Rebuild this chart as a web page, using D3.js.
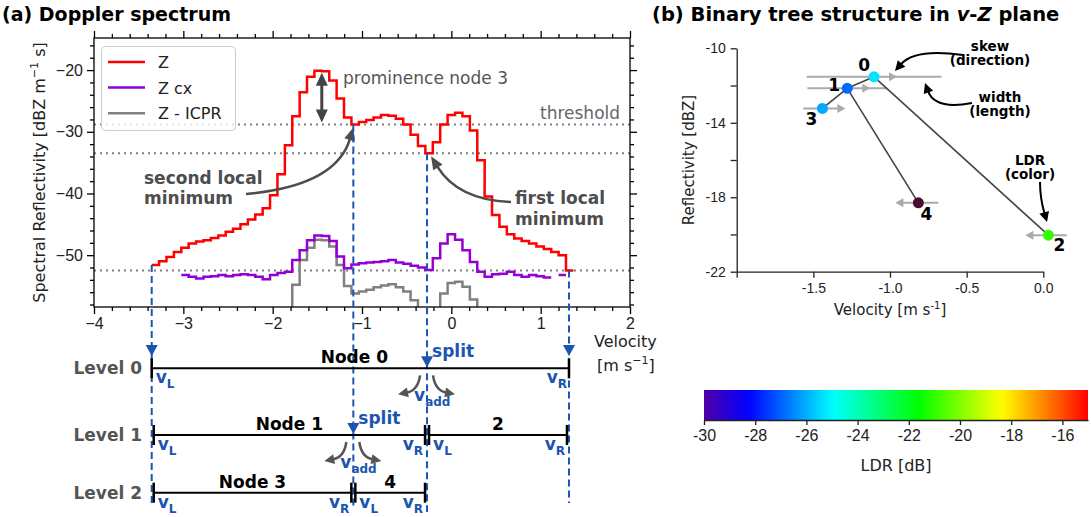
<!DOCTYPE html>
<html>
<head>
<meta charset="utf-8">
<script src="https://cdn.jsdelivr.net/npm/d3@7"></script>
<style>
  body { margin: 0; background: #fff; }
  svg { display: block; font-family: "DejaVu Sans", sans-serif; }
</style>
</head>
<body>
<svg id="fig" width="1091" height="517"></svg>
<script>
// ---------------- Doppler spectrum (bin-centre velocity, m/s) ----------------
const velocity = [
  -3.313, -3.230, -3.147, -3.064, -2.981, -2.899, -2.816, -2.733, -2.650, -2.567,
  -2.485, -2.402, -2.319, -2.236, -2.153, -2.071, -1.988, -1.905, -1.822, -1.739,
  -1.657, -1.574, -1.491, -1.408, -1.325, -1.243, -1.160, -1.077, -0.994, -0.911,
  -0.829, -0.746, -0.663, -0.580, -0.497, -0.415, -0.332, -0.249, -0.166, -0.083,
   0.000,  0.083,  0.166,  0.249,  0.332,  0.414,  0.497,  0.580,  0.663,  0.746,
   0.828,  0.911,  0.994,  1.077,  1.160,  1.242,  1.325
];
const binWidth = 0.0828;

// co-polar reflectivity Z
const zTotal = [
  -51.6, -51.0, -50.3, -49.5, -48.8, -48.1, -47.8, -47.6, -47.2, -46.8,
  -46.2, -45.7, -45.0, -44.2, -43.4, -42.4, -40.3, -36.9, -32.2, -27.5,
  -23.6, -21.1, -20.1, -20.2, -21.7, -24.6, -27.7, -28.8, -28.4, -28.1,
  -27.7, -27.3, -27.4, -27.9, -28.8, -30.5, -32.3, -33.5, -31.7, -28.8,
  -27.3, -26.9, -27.5, -29.8, -34.6, -40.5, -43.5, -45.4, -46.6, -47.3,
  -47.7, -48.1, -48.6, -49.0, -49.5, -50.0, -52.5
];
// cross-polar reflectivity Z cx
const zCross = [
  null, null, null, null, -53.2, -53.5, -53.8, -53.5, -53.4, -53.2,
  -53.4, -53.2, -53.1, -53.2, -53.5, -53.9, -53.2, -52.9, -52.7, -50.8,
  -49.2, -47.6, -46.8, -46.9, -47.7, -50.2, -52.1, -51.5, -51.3, -51.2,
  -51.1, -51.0, -50.8, -51.2, -51.4, -51.7, -52.0, -52.4, -50.5, -48.1,
  -46.6, -47.5, -49.2, -51.1, -52.7, -53.5, -53.1, -53.0, -52.7, -53.2,
  -53.5, -53.2, -53.4, -53.6, null, -53.2, null
];
// Z minus integrated cross-polar return
const zIcpr = [
  null, null, null, null, null, null, null, null, null, null,
  null, null, null, null, null, null, null, -62.0, -62.0, -54.8,
  -50.8, -48.8, -47.5, -47.6, -48.6, -51.6, -55.0, -56.2, -55.9, -55.6,
  -55.2, -54.9, -54.7, -55.2, -55.9, -57.3, -62.0, -62.0, -62.0, -56.2,
  -54.5, -54.3, -55.1, -57.2, -62.0, null, null, null, null, null,
  null, null, null, null, null, null, null
];
const thresholds = [-52.5, -33.5, -28.8];

// peak boundaries and split velocities (m/s)
const vLeft = -3.354, vRight = 1.317;
const vSplitFirst = -0.272;   // first local minimum
const vSplitSecond = -1.097;  // second local minimum
const prominenceVel = -1.45, prominenceTop = -20.1, prominenceBase = -28.8;

const xMajorTicks = [-4, -3, -2, -1, 0, 1, 2];
const yMajorTicks = [-50, -40, -30, -20];

// ---------------- binary tree in v-Z plane ----------------
const nodeIds     = [0, 1, 2, 3, 4];
const nodeParent  = [null, 0, 0, 1, 1];
const nodeVel     = [-1.104, -1.279, 0.033, -1.441, -0.815];
const nodeRefl    = [-11.53, -12.15, -20.04, -13.23, -18.30];
const nodeWidth   = [0.88, 0.52, 0.24, 0.25, 0.26];
const nodeSkew    = [1, 1, -1, 1, -1];
const nodeLDR     = [-25.3, -26.9, -21.0, -26.1, -32.0];
const bXTicks = [-2.0, -1.5, -1.0, -0.5, 0.0];
const bXLabels = ['', '-1.5', '-1.0', '-0.5', '0.0'];
const bYTicks = [-22, -20, -18, -16, -14, -12, -10];
const bYLabels = ['-22', '', '-18', '', '-14', '', '-10'];
const cbTicks = [-30, -28, -26, -24, -22, -20, -18, -16];

// LDR colour map
const ldrStops  = [0, 0.117, 0.335, 0.56, 0.774, 0.89, 1];
const ldrColors = ['#5000a8', '#0000ff', '#00ffff', '#00ff00', '#ffff00', '#ff8000', '#ff0000'];
const ldrUnder = '#4a0c30';

// ---------------------------------------------------------------------------
const svg = d3.select('#fig');
const defs = svg.append('defs');
const BLUE = '#1c55b0';
const uminus = d => (d < 0 ? '\u2212' + Math.abs(d) : String(d));

function arrowHead(g, fx, fy, tx, ty, len, halfW, color) {
  const a = Math.atan2(ty - fy, tx - fx);
  const bx = tx - len * Math.cos(a), by = ty - len * Math.sin(a);
  const px = -Math.sin(a) * halfW, py = Math.cos(a) * halfW;
  g.append('path')
    .attr('d', `M${tx},${ty}L${bx + px},${by + py}L${bx - px},${by - py}Z`)
    .attr('fill', color);
}
function curvedArrow(g, s, c, e, color, width, len, halfW) {
  // shorten the curve so the head sits at the end point
  const a = Math.atan2(e[1] - c[1], e[0] - c[0]);
  const ex = e[0] - (len - 1) * Math.cos(a), ey = e[1] - (len - 1) * Math.sin(a);
  g.append('path')
    .attr('d', `M${s[0]},${s[1]}Q${c[0]},${c[1]} ${ex},${ey}`)
    .attr('fill', 'none').attr('stroke', color).attr('stroke-width', width);
  arrowHead(g, c[0], c[1], e[0], e[1], len, halfW, color);
}
function boldText(g, x, y, str, color, size) {
  return g.append('text').attr('x', x).attr('y', y).text(str)
    .style('font-size', (size || 17) + 'px').style('font-weight', 'bold').attr('fill', color);
}

// ============================ panel (a) ====================================
const A = { left: 94, right: 630, top: 38, bottom: 307 };
const xA = d3.scaleLinear().domain([-4, 2]).range([A.left, A.right]);
const yA = d3.scaleLinear().domain([-58.4, -14.8]).range([A.bottom, A.top]);
const gA = svg.append('g');

defs.append('clipPath').attr('id', 'clipA').append('rect')
  .attr('x', A.left).attr('y', A.top)
  .attr('width', A.right - A.left).attr('height', A.bottom - A.top);

// axes with outward ticks on all four sides
const xMinor = d3.range(-4, 2.001, 0.2).filter(v => Math.abs(v - Math.round(v)) > 1e-6);
const yMinor = d3.range(-58, -14, 2).filter(v => v % 10 !== 0);
function styleAxis(sel) {
  sel.select('.domain').remove();
  sel.selectAll('line').attr('stroke', '#000').attr('stroke-width', 1.3);
  sel.selectAll('text').attr('fill', '#222').style('font-size', '16px');
}
gA.append('g').attr('transform', `translate(0,${A.bottom})`)
  .call(d3.axisBottom(xA).tickValues(xMajorTicks).tickSize(7).tickPadding(4).tickFormat(uminus)).call(styleAxis);
gA.append('g').attr('transform', `translate(0,${A.bottom})`)
  .call(d3.axisBottom(xA).tickValues(xMinor).tickSize(4).tickFormat('')).call(styleAxis);
gA.append('g').attr('transform', `translate(0,${A.top})`)
  .call(d3.axisTop(xA).tickValues(xMajorTicks).tickSize(7).tickFormat('')).call(styleAxis);
gA.append('g').attr('transform', `translate(0,${A.top})`)
  .call(d3.axisTop(xA).tickValues(xMinor).tickSize(4).tickFormat('')).call(styleAxis);
gA.append('g').attr('transform', `translate(${A.left},0)`)
  .call(d3.axisLeft(yA).tickValues(yMajorTicks).tickSize(7).tickPadding(4).tickFormat(uminus)).call(styleAxis);
gA.append('g').attr('transform', `translate(${A.left},0)`)
  .call(d3.axisLeft(yA).tickValues(yMinor).tickSize(4).tickFormat('')).call(styleAxis);
gA.append('g').attr('transform', `translate(${A.right},0)`)
  .call(d3.axisRight(yA).tickValues(yMajorTicks).tickSize(7).tickFormat('')).call(styleAxis);
gA.append('g').attr('transform', `translate(${A.right},0)`)
  .call(d3.axisRight(yA).tickValues(yMinor).tickSize(4).tickFormat('')).call(styleAxis);

// threshold lines
const plotA = gA.append('g').attr('clip-path', 'url(#clipA)');
thresholds.forEach(t => {
  plotA.append('line').attr('x1', A.left).attr('x2', A.right)
    .attr('y1', yA(t)).attr('y2', yA(t))
    .attr('stroke', '#808080').attr('stroke-width', 2).attr('stroke-dasharray', '2,4');
});

// spectra drawn as bins
function binPoints(vals) {
  const pts = [];
  vals.forEach((z, i) => {
    if (z == null) { pts.push(null); return; }
    pts.push([velocity[i] - binWidth / 2, z], [velocity[i] + binWidth / 2, z]);
  });
  return pts;
}
const stepLine = d3.line().defined(d => d != null).x(d => xA(d[0])).y(d => yA(d[1]));
const series = [
  { vals: zIcpr, color: '#808080', label: 'Z - ICPR' },
  { vals: zCross, color: '#9400d3', label: 'Z cx' },
  { vals: zTotal, color: '#ff0000', label: 'Z' }
];
series.forEach(s => {
  plotA.append('path').attr('d', stepLine(binPoints(s.vals)))
    .attr('fill', 'none').attr('stroke', s.color).attr('stroke-width', 2.5)
    .attr('stroke-linejoin', 'miter');
});

// frame
gA.append('rect').attr('x', A.left).attr('y', A.top)
  .attr('width', A.right - A.left).attr('height', A.bottom - A.top)
  .attr('fill', 'none').attr('stroke', '#000').attr('stroke-width', 1.3);

// legend
const leg = gA.append('g');
leg.append('rect').attr('x', 101.5).attr('y', 46.5).attr('width', 134).attr('height', 84)
  .attr('rx', 4).attr('fill', '#fff').attr('fill-opacity', 0.8)
  .attr('stroke', '#cccccc').attr('stroke-width', 1);
series.slice().reverse().forEach((s, i) => {
  const y = 62 + i * 25.6;
  leg.append('line').attr('x1', 108).attr('x2', 145).attr('y1', y).attr('y2', y)
    .attr('stroke', s.color).attr('stroke-width', 2.5);
  leg.append('text').attr('x', 158).attr('y', y + 6).text(s.label)
    .style('font-size', '16px').attr('fill', '#222');
});

// prominence double arrow
{
  const x = xA(prominenceVel), y1 = yA(prominenceTop) + 2, y2 = yA(prominenceBase) - 2;
  gA.append('line').attr('x1', x).attr('x2', x).attr('y1', y1 + 8).attr('y2', y2 - 8)
    .attr('stroke', '#444').attr('stroke-width', 3);
  arrowHead(gA, x, y2, x, y1, 13, 6, '#444');
  arrowHead(gA, x, y1, x, y2, 13, 6, '#444');
}
gA.append('text').attr('x', 343).attr('y', 84).text('prominence node 3')
  .style('font-size', '17px').attr('fill', '#555');
gA.append('text').attr('x', 540).attr('y', 119).text('threshold')
  .style('font-size', '17px').attr('fill', '#666');

// local-minimum annotations
boldText(gA, 144, 184, 'second local', '#4d4d4d');
boldText(gA, 144, 204, 'minimum', '#4d4d4d');
boldText(gA, 515, 204, 'first local', '#4d4d4d');
boldText(gA, 515, 225, 'minimum', '#4d4d4d');
curvedArrow(gA, [246, 194], [336, 186], [xA(vSplitSecond), yA(prominenceBase) + 3], '#4d4d4d', 2.5, 13, 5.5);
curvedArrow(gA, [511, 202], [458, 200], [xA(vSplitFirst) + 4, yA(thresholds[1]) + 3], '#4d4d4d', 2.5, 13, 5.5);

// x label
gA.append('text').attr('x', 594).attr('y', 347).text('Velocity')
  .style('font-size', '16px').attr('fill', '#222');
{
  const t = gA.append('text').attr('x', 597).attr('y', 371).style('font-size', '16px').attr('fill', '#222');
  t.append('tspan').text('[m s');
  t.append('tspan').attr('dy', -7).style('font-size', '11px').text('\u22121');
  t.append('tspan').attr('dy', 7).text(']');
}
// y label
{
  const t = gA.append('text').attr('transform', `translate(45,${(A.top + A.bottom) / 2}) rotate(-90)`)
    .attr('text-anchor', 'middle').style('font-size', '16px').attr('fill', '#222');
  t.append('tspan').text('Spectral Reflectivity [dBZ m');
  t.append('tspan').attr('dy', -7).style('font-size', '11px').text('\u22121');
  t.append('tspan').attr('dy', 7).text(' s]');
}
boldText(gA, 2, 21, '(a) Doppler spectrum', '#000', 19);

// ---------------- peak-finding levels below the spectrum ----------------
const levelY = [368.3, 435, 492.7];
const levels = [
  { level: 0, nodes: [{ name: 'Node 0', v0: vLeft, v1: vRight }], split: vSplitFirst },
  { level: 1, nodes: [{ name: 'Node 1', v0: vLeft, v1: vSplitFirst }, { name: '2', v0: vSplitFirst, v1: vRight }], split: vSplitSecond },
  { level: 2, nodes: [{ name: 'Node 3', v0: vLeft, v1: vSplitSecond }, { name: '4', v0: vSplitSecond, v1: vSplitFirst }], split: null }
];

// blue dashed guide lines from the spectrum down through the levels
const guides = [
  { v: vLeft, z: zTotal[0], yEnd: 505, headY: 356 },
  { v: vSplitSecond, z: prominenceBase, yEnd: 507, headY: null },
  { v: vSplitFirst, z: thresholds[1], yEnd: 512, headY: null },
  { v: vRight, z: zTotal[zTotal.length - 1], yEnd: 503, headY: 356 }
];
const gL = svg.append('g');
guides.forEach(gd => {
  gL.append('line').attr('x1', xA(gd.v)).attr('x2', xA(gd.v))
    .attr('y1', yA(gd.z)).attr('y2', gd.yEnd)
    .attr('stroke', BLUE).attr('stroke-width', 2).attr('stroke-dasharray', '7,4');
  if (gd.headY) arrowHead(gL, xA(gd.v), gd.headY - 10, xA(gd.v), gd.headY, 11, 6, BLUE);
});

function vLabel(g, x, y, sub, anchor) {
  const t = g.append('text').attr('x', x).attr('y', y).attr('text-anchor', anchor || 'start')
    .style('font-weight', 'bold').attr('fill', BLUE).style('font-size', '17px');
  t.append('tspan').text('v');
  t.append('tspan').attr('dy', 5).style('font-size', '12px').text(sub);
  return t;
}

levels.forEach((lv, li) => {
  const y = levelY[li];
  boldText(gL, 142, y + 6, 'Level ' + lv.level, '#555').attr('text-anchor', 'end');
  lv.nodes.forEach(nd => {
    const inset = li === 0 ? 0 : 2;
    const x0 = xA(nd.v0) + inset, x1 = xA(nd.v1) - inset;
    gL.append('line').attr('x1', x0).attr('x2', x1).attr('y1', y).attr('y2', y)
      .attr('stroke', '#000').attr('stroke-width', 2);
    [x0, x1].forEach(x => gL.append('line').attr('x1', x).attr('x2', x)
      .attr('y1', y - 10).attr('y2', y + 10).attr('stroke', '#000').attr('stroke-width', 2.5));
    boldText(gL, (x0 + x1) / 2 - (li === 0 ? 6 : 0), y - 5, nd.name, '#000').attr('text-anchor', 'middle');
    vLabel(gL, x0 + 4, y + 15, 'L');
    vLabel(gL, x1 - 2, y + 15, 'R', 'end');
  });
  if (lv.split != null) {
    const xs = xA(lv.split);
    arrowHead(gL, xs, y - 12, xs, y - 1, 11, 6, BLUE);
    boldText(gL, xs + 5, y - 11, 'split', BLUE);
    curvedArrow(gL, [xs - 7, y + 7], [xs - 9, y + 22], [xs - 29, y + 26], '#555', 2.5, 10, 5);
    curvedArrow(gL, [xs + 6, y + 7], [xs + 8, y + 22], [xs + 28, y + 26], '#555', 2.5, 10, 5);
    const t = gL.append('text').attr('x', xs - 13).attr('y', y + 33)
      .style('font-weight', 'bold').attr('fill', BLUE).style('font-size', '17px');
    t.append('tspan').text('v');
    t.append('tspan').attr('dy', 5).style('font-size', '12px').text('add');
  }
});

// ============================ panel (b) ====================================
const B = { left: 736.7, right: 1043.3, top: 48.3, bottom: 271.7 };
const xB = d3.scaleLinear().domain([-2, 0]).range([B.left, B.right]);
const yB = d3.scaleLinear().domain([-22, -10]).range([B.bottom, B.top]);
const gB = svg.append('g');

const cmapInterp = d3.scaleLinear().domain(ldrStops).range(ldrColors).interpolate(d3.interpolateRgb);
const ldrScale = d3.scaleLinear().domain([-30, -15]).range([0, 1]);
const ldrColor = v => (v < -30 ? ldrUnder : cmapInterp(Math.min(1, ldrScale(v))));

function styleB(sel, size) {
  sel.select('.domain').attr('stroke', '#222').attr('stroke-width', 1.3);
  sel.selectAll('line').attr('stroke', '#222').attr('stroke-width', 1.3);
  sel.selectAll('text').attr('fill', '#222').style('font-size', size + 'px');
}
gB.append('g').attr('transform', `translate(0,${B.bottom})`)
  .call(d3.axisBottom(xB).tickValues(bXTicks).tickSize(6).tickSizeOuter(0).tickPadding(5)
    .tickFormat((d, i) => bXLabels[i])).call(s => styleB(s, 14));
gB.append('g').attr('transform', `translate(${B.left},0)`)
  .call(d3.axisLeft(yB).tickValues(bYTicks).tickSize(6).tickSizeOuter(0).tickPadding(5)
    .tickFormat((d, i) => bYLabels[i])).call(s => styleB(s, 14));

{
  const t = gB.append('text').attr('x', (B.left + B.right) / 2).attr('y', 315)
    .attr('text-anchor', 'middle').style('font-size', '15px').attr('fill', '#222');
  t.append('tspan').text('Velocity [m s');
  t.append('tspan').attr('dy', -6).style('font-size', '10px').text('-1');
  t.append('tspan').attr('dy', 6).text(']');
}
gB.append('text').attr('transform', `translate(694,${(B.top + B.bottom) / 2}) rotate(-90)`)
  .attr('text-anchor', 'middle').style('font-size', '15px').attr('fill', '#222')
  .text('Reflectivity [dBZ]');

// title with italic variables
{
  const t = gB.append('text').attr('x', 652).attr('y', 21).style('font-size', '19.5px')
    .style('font-weight', 'bold').attr('fill', '#000');
  t.append('tspan').text('(b) Binary tree structure in ');
  t.append('tspan').style('font-style', 'italic').text('v');
  t.append('tspan').text('-');
  t.append('tspan').style('font-style', 'italic').text('Z');
  t.append('tspan').text(' plane');
}

// width (line length) and skew (arrow direction)
nodeIds.forEach(i => {
  const cx = xB(nodeVel[i]), cy = yB(nodeRefl[i]);
  const half = (xB(nodeWidth[i]) - xB(0)) / 2;
  gB.append('line').attr('x1', cx - half).attr('x2', cx + half).attr('y1', cy).attr('y2', cy)
    .attr('stroke', '#aaaaaa').attr('stroke-width', 2);
  const s = nodeSkew[i];
  arrowHead(gB, cx + s * 10, cy, cx + s * 23, cy, 8, 4.5, '#aaaaaa');
});
// tree edges
nodeIds.forEach(i => {
  const p = nodeParent[i];
  if (p == null) return;
  gB.append('line').attr('x1', xB(nodeVel[p])).attr('y1', yB(nodeRefl[p]))
    .attr('x2', xB(nodeVel[i])).attr('y2', yB(nodeRefl[i]))
    .attr('stroke', '#444').attr('stroke-width', 1.6);
});
// nodes coloured by LDR, with their ids
const labelOffset = [[-10, -6], [-13, 3], [11, 16], [-11, 17], [8, 17]];
nodeIds.forEach(i => {
  const cx = xB(nodeVel[i]), cy = yB(nodeRefl[i]);
  gB.append('circle').attr('cx', cx).attr('cy', cy).attr('r', 5.5).attr('fill', ldrColor(nodeLDR[i]));
  boldText(gB, cx + labelOffset[i][0], cy + labelOffset[i][1], String(nodeIds[i]), '#000', 17)
    .attr('text-anchor', 'middle');
});

// explanatory callouts
function callout(x, y, l1, l2) {
  boldText(gB, x, y, l1, '#000', 13.5).attr('text-anchor', 'middle');
  boldText(gB, x, y + 14, l2, '#000', 13.5).attr('text-anchor', 'middle');
}
callout(990, 51, 'skew', '(direction)');
callout(1000, 102, 'width', '(length)');
callout(1030, 165, 'LDR', '(color)');
curvedArrow(gB, [963, 55], [915, 48], [895, 71], '#000', 2, 10, 5);
curvedArrow(gB, [972, 103], [935, 110], [925, 83], '#000', 2, 10, 5);
curvedArrow(gB, [1040, 182], [1040, 198], [1047, 222], '#000', 2, 10, 5);

// colour bar
const C = { left: 704, right: 1088, top: 390, bottom: 420 };
const xC = d3.scaleLinear().domain([-30, -15]).range([C.left, C.right]);
const grad = defs.append('linearGradient').attr('id', 'ldrGrad')
  .attr('x1', '0%').attr('x2', '100%').attr('y1', '0%').attr('y2', '0%');
d3.range(0, 1.0001, 0.02).forEach(f => {
  grad.append('stop').attr('offset', (f * 100) + '%').attr('stop-color', cmapInterp(f));
});
gB.append('rect').attr('x', C.left).attr('y', C.top).attr('width', C.right - C.left)
  .attr('height', C.bottom - C.top).attr('fill', 'url(#ldrGrad)');
gB.append('g').attr('transform', `translate(0,${C.bottom})`)
  .call(d3.axisBottom(xC).tickValues(cbTicks).tickSize(5).tickSizeOuter(0).tickPadding(5)
    .tickFormat(d => String(d))).call(s => styleB(s, 16));
gB.append('text').attr('x', (C.left + C.right) / 2).attr('y', 471).attr('text-anchor', 'middle')
  .style('font-size', '16px').attr('fill', '#222').text('LDR [dB]');
</script>
</body>
</html>
